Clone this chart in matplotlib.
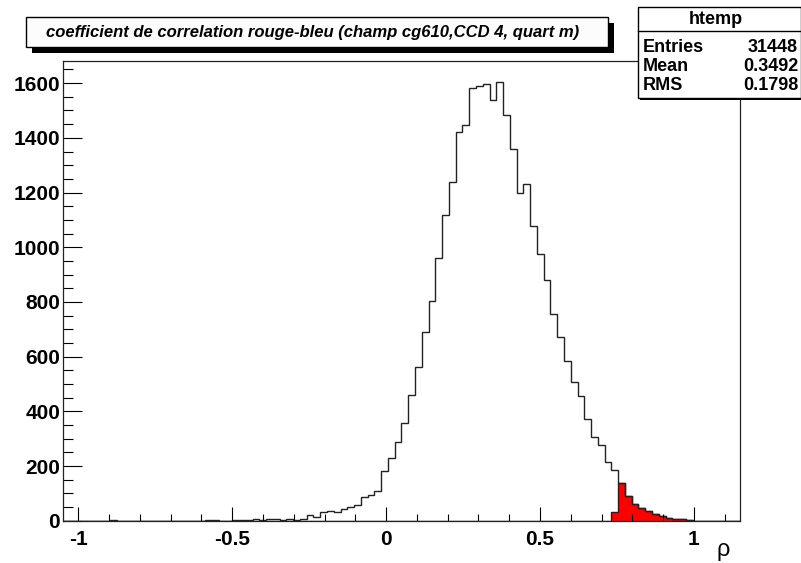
import matplotlib

matplotlib.use("Agg")
import matplotlib.pyplot as plt
import numpy as np
from matplotlib.patches import Rectangle
from matplotlib.ticker import MultipleLocator, FuncFormatter

# canvas size in pixels
W, H = 801, 563

# histogram binning (ROOT htemp, 100 bins)
x_low, x_high, n_bins = -1.05, 1.15, 100

# counts per bin
counts = [
    0, 0, 0, 0, 0, 0, 0, 1, 0, 0,
    0, 0, 0, 0, 0, 0, 0, 0, 0, 0,
    0, 1, 1, 0, 0, 1, 1, 1, 8, 4,
    5, 5, 4, 5, 2, 7, 20, 15, 30, 34,
    31, 41, 50, 58, 86, 95, 110, 180, 229, 288,
    357, 461, 562, 689, 802, 962, 1118, 1237, 1420, 1448,
    1582, 1588, 1597, 1539, 1603, 1482, 1359, 1198, 1232, 1076,
    976, 880, 757, 672, 583, 509, 455, 372, 306, 275,
    213, 184, 137, 90, 62, 48, 36, 23, 17, 11,
    7, 5, 4, 0, 0, 0, 0, 0, 0, 0,
]

# red filled histogram (tail selection)
cut_counts = [0] * 81 + [30, 137, 90, 62, 48, 36, 23, 17, 11, 7, 5, 4] + [0] * 7

title = "coefficient de correlation rouge-bleu (champ cg610,CCD 4, quart m)"
stats_name = "htemp"
stats_labels = ["Entries", "Mean", "RMS"]
stats_values = ["31448", "0.3492", "0.1798"]
x_title = "\u03c1"

FONT = ["Liberation Sans", "DejaVu Sans"]
plt.rcParams["font.family"] = FONT
plt.rcParams["axes.unicode_minus"] = False


def fx(px):
    return px / W


def fy(py):
    return 1 - py / H


def add_box(fig, x0, y0, x1, y1, shadow, lw=1.0, face="white"):
    if shadow:
        fig.add_artist(Rectangle(
            (fx(x0 + shadow), fy(y1 + shadow)),
            (x1 - x0) / W, (y1 - y0) / H,
            transform=fig.transFigure, facecolor="black",
            edgecolor="black", lw=0,
        ))
    fig.add_artist(Rectangle(
        (fx(x0), fy(y1)), (x1 - x0) / W, (y1 - y0) / H,
        transform=fig.transFigure, facecolor=face,
        edgecolor="black", lw=lw,
    ))


fig = plt.figure(figsize=(W / 100, H / 100), dpi=100)
ax = fig.add_axes([fx(63), fy(520.7), 677 / W, (520.7 - 61) / H])

edges = np.linspace(x_low, x_high, n_bins + 1)
ax.stairs(cut_counts, edges, fill=True, facecolor="red", edgecolor="none")
ax.stairs(cut_counts, edges, color="#222222", lw=1.0)
ax.stairs(counts, edges, color="#222222", lw=1.0)

ax.set_xlim(x_low, x_high)
ax.set_ylim(0, 1681)

ax.xaxis.set_major_locator(MultipleLocator(0.5))
ax.xaxis.set_minor_locator(MultipleLocator(0.1))
ax.yaxis.set_major_locator(MultipleLocator(200))
ax.yaxis.set_minor_locator(MultipleLocator(50))
ax.xaxis.set_major_formatter(FuncFormatter(lambda v, p: f"{v:g}"))

ax.tick_params(axis="x", which="major", direction="in", length=10, width=0.8,
               pad=6.5, labelsize=15)
ax.tick_params(axis="x", which="minor", direction="in", length=5, width=0.8)
ax.tick_params(axis="y", which="major", direction="in", length=14, width=0.8,
               pad=2, labelsize=15)
ax.tick_params(axis="y", which="minor", direction="in", length=7, width=0.8)
for lab in ax.get_xticklabels() + ax.get_yticklabels():
    lab.set_fontweight("bold")

for spine in ax.spines.values():
    spine.set_linewidth(0.9)
    spine.set_color("#222222")

fig.text(fx(730), fy(550), x_title, ha="right", va="center", fontsize=17)

# title box with shadow
add_box(fig, 26, 17, 608, 47, shadow=6, face="#fcfcfc")
fig.text(fx(46), fy(32.5), title, ha="left", va="center", fontsize=12,
         fontweight="bold", fontstyle="italic")

# stats box
add_box(fig, 638, 7, 801, 98, shadow=2)
fig.add_artist(plt.Line2D([fx(638), fx(801)], [fy(31), fy(31)],
                          transform=fig.transFigure, color="black", lw=1))
fig.text(fx(716), fy(19), stats_name, ha="center", va="center",
         fontsize=13, fontweight="bold")
row_y = [47.5, 66.5, 85]
for label, value, y in zip(stats_labels, stats_values, row_y):
    fig.text(fx(643), fy(y), label, ha="left", va="center",
             fontsize=13, fontweight="bold")
    fig.text(fx(798), fy(y), value, ha="right", va="center",
             fontsize=13, fontweight="bold")

fig.savefig("out.png", dpi=100)
